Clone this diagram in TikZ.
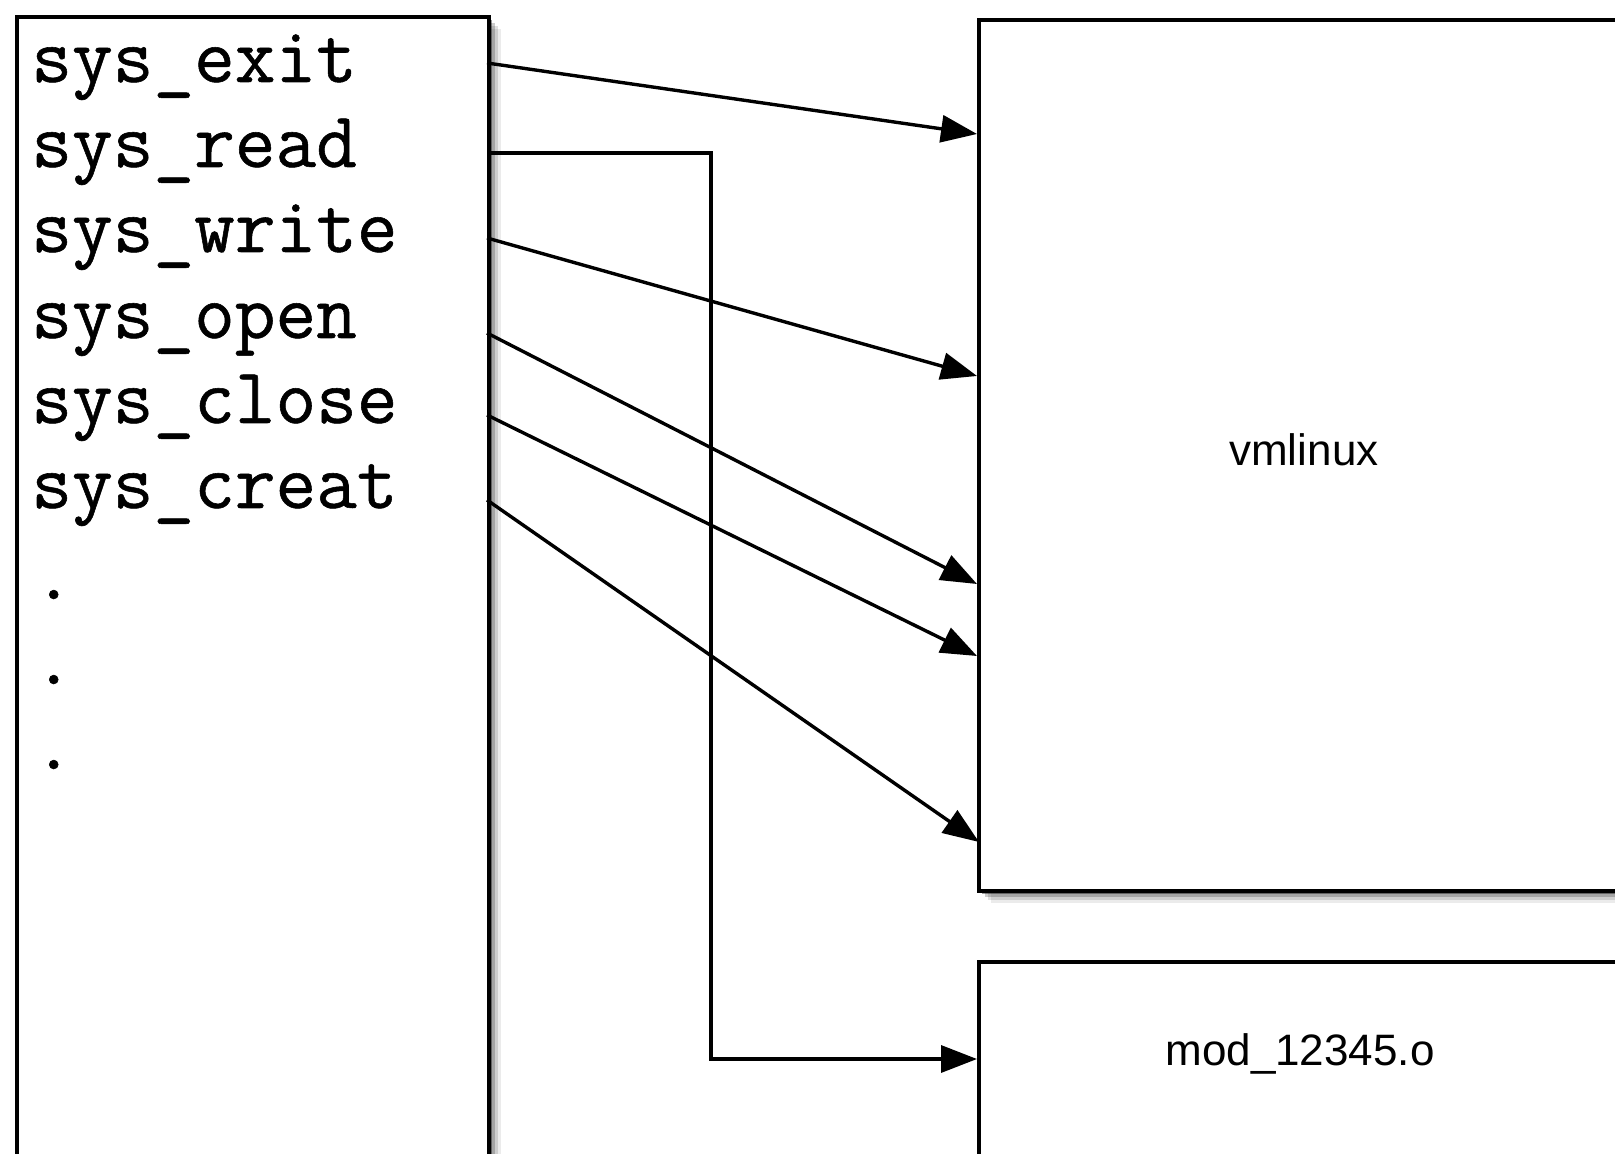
\documentclass[tikz,border=0pt]{standalone}
\usepackage{fontspec}
\setmainfont{Liberation Sans}
\newfontfamily\callfont{Latin Modern Mono}[FakeBold=0.7]
\usetikzlibrary{arrows.meta,positioning,shadows}

\begin{document}
\begin{tikzpicture}[
  x=0.5pt, y=-0.5pt,
  boxshadow/.style={
    drop shadow={shadow xshift=6pt, shadow yshift=-6pt, opacity=0.08, fill=black},
    drop shadow={shadow xshift=4.5pt, shadow yshift=-4.5pt, opacity=0.12, fill=black},
    drop shadow={shadow xshift=3pt, shadow yshift=-3pt, opacity=0.2, fill=black},
    drop shadow={shadow xshift=1.5pt, shadow yshift=-1.5pt, opacity=0.4, fill=black}},
  box/.style={draw, line width=1.9pt, fill=white, anchor=north west, inner sep=0pt, boxshadow},
  call/.style={font=\callfont\fontsize{39.5}{42}\selectfont, anchor=base west, inner sep=0pt},
  lbl/.style={font=\fontsize{22}{26}\selectfont, inner sep=0pt},
  arr/.style={-{Triangle[length=18pt, width=13.5pt]}, line width=1.7pt}
]
\useasboundingbox (0,0) rectangle (1615,1154);
\clip (0,0) rectangle (1615,1154);

% boxes
\node[box, minimum width=236pt, minimum height=592.5pt] (tbl) at (15,15) {};
\node[box, minimum width=325pt, minimum height=435.5pt] (vm) at (977,18) {};
\node[box, minimum width=325pt, minimum height=120pt] (mod) at (977,960) {};
\node[lbl] (vmtxt) at ([yshift=3pt]vm.center) {vmlinux};
\node[lbl] (modtxt) at (1300,1054) {mod\_12345.o};

% system call table
\node[call] (exit)  at (31,82)  {sys\_exit};
\node[call] (read)  at (31,167) {sys\_read};
\node[call] (write) at (31,252) {sys\_write};
\node[call] (open)  at (31,338) {sys\_open};
\node[call] (close) at (31,423) {sys\_close};
\node[call] (creat) at (31,508) {sys\_creat};
\node[call] (dotA)  at (33,599) {.};
\node[call] (dotB)  at (33,684) {.};
\node[call] (dotC)  at (33,769) {.};

% entries pointing into vmlinux
\coordinate (sexit)  at (487,63);  \coordinate (texit)  at (977,134);
\coordinate (swrite) at (487,238); \coordinate (twrite) at (977,376);
\coordinate (sopen)  at (487,333); \coordinate (topen)  at (977,584);
\coordinate (sclose) at (487,415); \coordinate (tclose) at (977,656);
\coordinate (screat) at (487,500); \coordinate (tcreat) at (979,842);
\draw[arr] (sexit)--(texit);
\draw[arr] (swrite)--(twrite);
\draw[arr] (sopen)--(topen);
\draw[arr] (sclose)--(tclose);
\draw[arr] (screat)--(tcreat);

% sys_read is hooked by the module
\coordinate (sread) at (487,153);
\coordinate (kread) at (711,1059);
\coordinate (tread) at (977,1059);
\draw[arr] (sread) -| (kread) -- (tread);
\end{tikzpicture}
\end{document}
